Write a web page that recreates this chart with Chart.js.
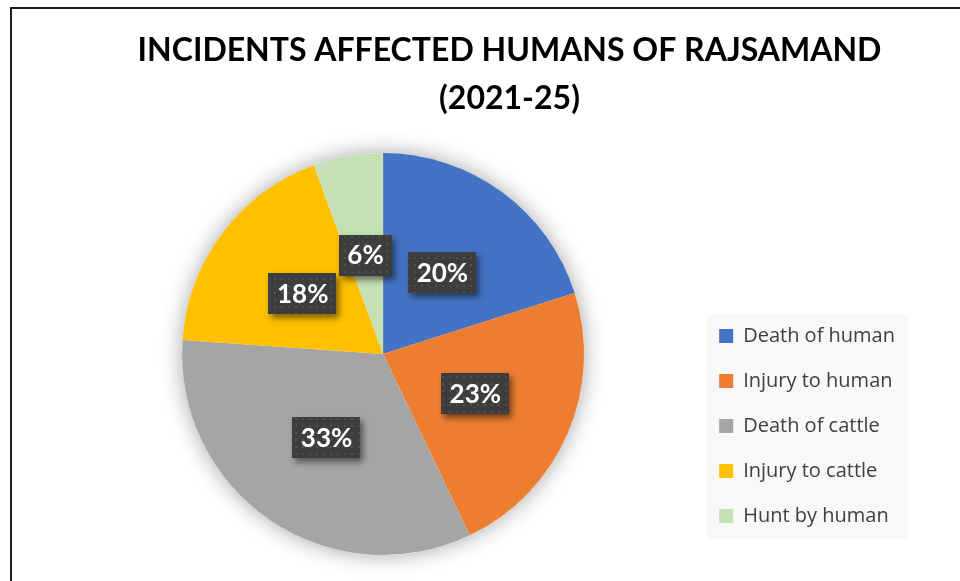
<!DOCTYPE html>
<html>
<head>
<meta charset="utf-8">
<script src="https://cdn.jsdelivr.net/npm/chart.js@4.4.1/dist/chart.umd.min.js"></script>
<style>
  html, body { margin: 0; padding: 0; background: #fff; overflow: hidden; width: 960px; height: 581px; }
  #frame { position: absolute; left: 10px; top: 7px; width: 1100px; height: 700px; border-left: 2px solid #1e1e1e; border-top: 2px solid #1e1e1e; }
  #wrap { position: absolute; left: 12px; top: 9px; width: 995px; height: 600px; }
</style>
</head>
<body>
<div id="frame"></div>
<div id="wrap"><canvas id="cPie"></canvas></div>
<script>
// ---- data ----
const categories  = ['Death of human', 'Injury to human', 'Death of cattle', 'Injury to cattle', 'Hunt by human'];
const shares      = [20.1, 22.8, 33.2, 18.3, 5.6];
const sliceColors = ['#4472C4', '#ED7D31', '#A5A5A5', '#FFC000', '#C5E0B4'];
const titleLines  = ['INCIDENTS AFFECTED HUMANS OF RAJSAMAND', '(2021-25)'];

const total = shares.reduce((a, b) => a + b, 0);
const pctLabel = v => Math.round(v / total * 100) + '%';

// dark dotted fill for the data labels
function dotPattern(ctx) {
  const p = document.createElement('canvas');
  p.width = 7; p.height = 7;
  const g = p.getContext('2d');
  g.fillStyle = '#3d3d3d'; g.fillRect(0, 0, 7, 7);
  g.fillStyle = '#505050'; g.fillRect(3, 3, 2, 2);
  return ctx.createPattern(p, 'repeat');
}

// title spans the whole canvas, legend sits a bit higher and gets a light panel
const frameTweaks = {
  id: 'frameTweaks',
  afterLayout(chart) {
    const t = chart.titleBlock;
    if (t) { t.left = 0; t.right = chart.width; t.width = chart.width; }
    const lg = chart.legend;
    if (lg) { lg.top -= 4; lg.bottom -= 4; }
  },
  beforeDraw(chart) {
    const hb = chart.legend && chart.legend.legendHitBoxes;
    if (!hb || !hb.length) return;
    const left   = Math.min(...hb.map(b => b.left)) - 12;
    const right  = Math.max(...hb.map(b => b.left + b.width)) + 13;
    const top    = hb[0].top + hb[0].height / 2 - 22;
    const bottom = hb[hb.length - 1].top + hb[hb.length - 1].height / 2 + 23;
    const ctx = chart.ctx;
    ctx.save();
    ctx.fillStyle = '#f8f8f8';
    ctx.fillRect(left, top, right - left, bottom - top);
    ctx.restore();
  }
};

// soft glow under the pie
const pieShadow = {
  id: 'pieShadow',
  beforeDatasetsDraw(chart) {
    const arc = chart.getDatasetMeta(0).data[0];
    if (!arc) return;
    const ctx = chart.ctx;
    ctx.save();
    ctx.shadowColor = 'rgba(0,0,0,0.35)';
    ctx.shadowBlur = 22;
    ctx.fillStyle = '#fff';
    ctx.beginPath();
    ctx.arc(arc.x, arc.y, arc.outerRadius, 0, Math.PI * 2);
    ctx.fill();
    ctx.restore();
  }
};

// percentage boxes in the middle of each slice
let pattern = null;
const sliceLabels = {
  id: 'sliceLabels',
  afterDatasetsDraw(chart) {
    const ctx = chart.ctx;
    if (!pattern) pattern = dotPattern(ctx);
    ctx.save();
    ctx.font = 'bold 26px Lato';
    chart.getDatasetMeta(0).data.forEach((arc, i) => {
      const { x, y } = arc.tooltipPosition();
      const txt = pctLabel(shares[i]);
      const w = ctx.measureText(txt).width + 17, h = 41;
      ctx.save();
      ctx.shadowColor = 'rgba(0,0,0,0.5)';
      ctx.shadowBlur = 6; ctx.shadowOffsetX = 3; ctx.shadowOffsetY = 4;
      ctx.fillStyle = pattern;
      ctx.fillRect(Math.round(x - w / 2), Math.round(y - h / 2), Math.round(w), h);
      ctx.restore();
      ctx.fillStyle = '#fff';
      ctx.textAlign = 'center';
      ctx.textBaseline = 'middle';
      ctx.fillText(txt, x, y + 1);
    });
    ctx.restore();
  }
};

new Chart(document.getElementById('cPie').getContext('2d'), {
  type: 'pie',
  data: {
    labels: categories,
    datasets: [{ data: shares, backgroundColor: sliceColors, borderWidth: 0, clip: false }]
  },
  options: {
    responsive: true, maintainAspectRatio: false, animation: false,
    layout: { padding: { left: 60, right: 102, top: 0, bottom: 54 } },
    plugins: {
      title: {
        display: true, text: titleLines, color: '#000',
        font: { family: 'Lato', size: 32, weight: 'bold', lineHeight: 1.5 },
        padding: { top: 18, bottom: 30 }
      },
      legend: {
        position: 'right', align: 'end', fullSize: false,
        labels: { boxWidth: 14, boxHeight: 14, padding: 25, color: '#404040', font: { family: '"Open Sans"', size: 20 } }
      },
      tooltip: { enabled: false }
    }
  },
  plugins: [frameTweaks, pieShadow, sliceLabels]
});
</script>
</body>
</html>
